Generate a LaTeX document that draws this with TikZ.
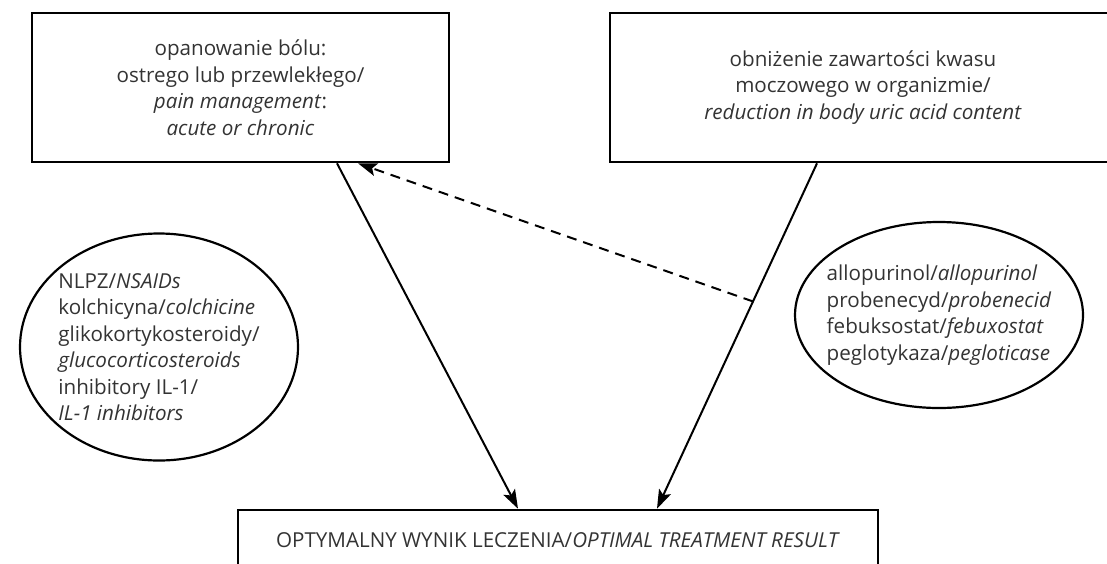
\documentclass[tikz,border=0pt]{standalone}
\usepackage{fontspec}
\setmainfont{Open Sans}
\usetikzlibrary{arrows.meta,shapes.geometric,calc}
\definecolor{txtgray}{HTML}{333333}
\tikzset{
  basenode/.style = {align=center, inner sep=0pt, text=txtgray, font=\fontsize{20.6}{26.5}\selectfont},
  goal_node/.style = {basenode, rectangle, draw=black, line width=2.6pt, minimum height=149pt},
  result_node/.style = {basenode, rectangle, draw=black, line width=2.6pt, minimum width=640pt, minimum height=60pt},
  drug_node/.style = {basenode, ellipse, draw=black, line width=2.2pt, align=left, inner xsep=-20pt, inner ysep=-10pt},
  flow/.style = {->, line width=2pt},
  feedback/.style = {->, line width=2pt, dash pattern=on 10pt off 7pt},
}

\begin{document}
\begin{tikzpicture}[x=1pt, y=-1pt, >={Stealth[length=19pt,width=13pt,inset=4pt]}]
    \clip (0,0) rectangle (1107,563);
    % goals
    \node [goal_node, minimum width=417pt] (pain) at (240.5,87.5)
        {opanowanie bólu:\\ostrego lub przewlekłego/\\\textit{pain management}:\\\textit{acute or chronic}};
    \node [goal_node, minimum width=506pt] (uric) at (863,87.5)
        {obniżenie zawartości kwasu\\moczowego w organizmie/\\\textit{reduction in body uric acid content}};
    % drugs
    \node [drug_node, minimum width=278pt, minimum height=227pt] (painmeds) at (159,347)
        {NLPZ/\textit{NSAIDs}\\kolchicyna/\textit{colchicine}\\glikokortykosteroidy/\\\textit{glucocorticosteroids}\\inhibitory IL-1/\\\textit{IL-1 inhibitors}};
    \node [drug_node, minimum width=288pt, minimum height=186pt] (uricmeds) at (939,315)
        {allopurinol/\textit{allopurinol}\\probenecyd/\textit{probenecid}\\febuksostat/\textit{febuxostat}\\peglotykaza/\textit{pegloticase}};
    % result
    \node [result_node] (result) at (558,540)
        {OPTYMALNY WYNIK LECZENIA/\textit{OPTIMAL TREATMENT RESULT}};

    \coordinate (painout) at ([xshift=96.5pt]pain.south);
    \coordinate (painin) at ([xshift=117.5pt]pain.south);
    \coordinate (uricout) at ([xshift=-46pt]uric.south);
    \coordinate (resin1) at ([xshift=-40pt]result.north);
    \coordinate (resin2) at ([xshift=99pt]result.north);
    \coordinate (dashfrom) at ($(uricout)!0.40!(resin2)$);

    \draw [flow] (painout) -- (resin1);
    \draw [flow] (uricout) -- (resin2);
    \draw [feedback] (dashfrom) -- (painin);
\end{tikzpicture}
\end{document}
